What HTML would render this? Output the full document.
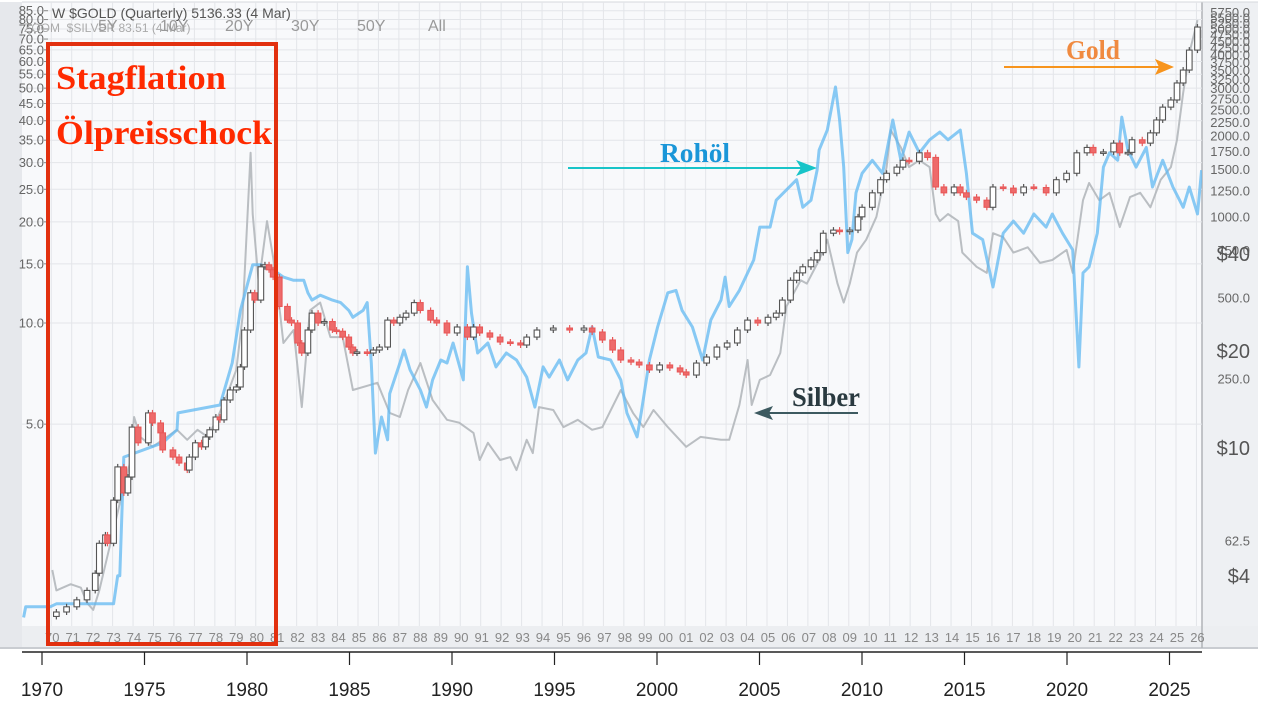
<!DOCTYPE html>
<html><head><meta charset="utf-8">
<style>
html,body{margin:0;padding:0;background:#fff;}
svg{display:block;}
text{font-family:"Liberation Sans",sans-serif;}
</style></head>
<body>
<svg id="chart" width="1276" height="714" viewBox="0 0 1276 714" xmlns="http://www.w3.org/2000/svg">
  <defs>
    <linearGradient id="leftbg" x1="0" x2="1" y1="0" y2="0">
      <stop offset="0" stop-color="#e6e8ec"/><stop offset="1" stop-color="#f7f8fa"/>
    </linearGradient>
    <clipPath id="plotclip"><rect x="22" y="2" width="1180" height="624"/></clipPath>
  </defs>
  <rect x="0" y="0" width="1276" height="714" fill="#fff"/>
  <rect x="0" y="2" width="1202" height="646" fill="url(#leftbg)"/>
  <rect x="22" y="2" width="1180" height="624" fill="#f8f9fb"/>
  <rect x="1202" y="2" width="56" height="646" fill="#eef0f3"/>
  <rect x="22" y="626" width="1236" height="22" fill="#eceef1"/>
  <line x1="0" y1="648" x2="1258" y2="648" stroke="#c9ccd1" stroke-width="2"/>
  <line x1="1202" y1="2" x2="1202" y2="648" stroke="#b0b3b8" stroke-width="1.5"/>
  <line x1="22" y1="2" x2="1258" y2="2" stroke="#d6d8dc" stroke-width="1"/>
  <g id="grid"></g>
  <g id="leftaxis"></g>
  <g id="rightaxis"></g>
  <g clip-path="url(#plotclip)">
    <g id="silver"></g>
    <g id="oil"></g>
    <g id="gold"></g>
  </g>
  <g id="strip"></g>
  <g id="bottomaxis"></g>

  <text x="52" y="18" font-size="14" fill="#555">W $GOLD (Quarterly) 5136.33 (4 Mar)</text>
  <text x="24" y="32" font-size="12" fill="#aaa">ZOOM &#160;$SILVER 83.51 (4 Mar)</text>
  <text x="98" y="31" font-size="16" fill="#999">5Y</text>
  <text x="160" y="31" font-size="16" fill="#999">10Y</text>
  <text x="225" y="31" font-size="16" fill="#999">20Y</text>
  <text x="291" y="31" font-size="16" fill="#999">30Y</text>
  <text x="357" y="31" font-size="16" fill="#999">50Y</text>
  <text x="428" y="31" font-size="16" fill="#999">All</text>

  <rect x="48" y="44" width="228" height="600" fill="none" stroke="#e2300f" stroke-width="4"/>
  <text x="56" y="89" font-family="Liberation Serif, serif" font-weight="bold" font-size="34" fill="#ff2a00" textLength="170" lengthAdjust="spacingAndGlyphs" style="font-family:'Liberation Serif',serif">Stagflation</text>
  <text x="56" y="144" font-weight="bold" font-size="34" fill="#ff2a00" textLength="216" lengthAdjust="spacingAndGlyphs" style="font-family:'Liberation Serif',serif">Ölpreisschock</text>

  <text x="660" y="162" font-weight="bold" font-size="27" fill="#1a96d8" textLength="70" lengthAdjust="spacingAndGlyphs" style="font-family:'Liberation Serif',serif">Rohöl</text>
  <line x1="568" y1="168" x2="805" y2="168" stroke="#18c4c8" stroke-width="2"/>
  <polygon points="817,168 796,160 801,168 796,176" fill="#18c4c8"/>

  <text x="1066" y="59" font-weight="bold" font-size="27" fill="#f08a40" textLength="54" lengthAdjust="spacingAndGlyphs" style="font-family:'Liberation Serif',serif">Gold</text>
  <line x1="1004" y1="67" x2="1162" y2="67" stroke="#f7941d" stroke-width="2"/>
  <polygon points="1174,67 1155,59 1159,67 1155,75" fill="#f7941d"/>

  <text x="792" y="406" font-weight="bold" font-size="27" fill="#2a3a40" textLength="68" lengthAdjust="spacingAndGlyphs" style="font-family:'Liberation Serif',serif">Silber</text>
  <line x1="858" y1="413" x2="764" y2="413" stroke="#3d5a60" stroke-width="2"/>
  <polygon points="754,413 773,406 769,413 773,420" fill="#3d5a60"/>
</svg>
<script>
// ---- data (ratio-axis values) ----
const goldYears = [1970.8,1971.3,1971.8,1972.3,1972.7,1972.9,1973.2,1973.3,1973.6,1973.8,1974.1,1974.3,1974.5,1974.8,1975.3,1975.5,1975.9,1976.0,1976.5,1976.8,1977.2,1977.3,1977.6,1977.9,1978.1,1978.3,1978.6,1978.8,1979.0,1979.3,1979.6,1979.8,1980.0,1980.3,1980.5,1980.8,1981.0,1981.2,1981.4,1981.7,1982.1,1982.3,1982.6,1982.8,1983.1,1983.3,1983.6,1983.9,1984.3,1984.5,1984.8,1985.1,1985.3,1985.5,1986.0,1986.3,1986.6,1987.0,1987.3,1987.6,1987.9,1988.3,1988.6,1989.1,1989.4,1989.9,1990.4,1990.9,1991.2,1991.5,1992.0,1992.5,1993.0,1993.5,1993.8,1994.3,1995.1,1995.9,1996.6,1997.0,1997.5,1998.0,1998.4,1998.9,1999.3,1999.8,2000.3,2000.8,2001.3,2001.6,2002.1,2002.6,2003.1,2003.6,2004.1,2004.6,2005.1,2005.6,2006.0,2006.3,2006.7,2007.0,2007.3,2007.7,2008.0,2008.3,2008.8,2009.1,2009.6,2010.0,2010.2,2010.7,2011.1,2011.4,2011.9,2012.2,2012.5,2013.0,2013.4,2013.8,2014.2,2014.7,2015.0,2015.3,2015.8,2016.3,2016.6,2017.1,2017.6,2018.1,2018.6,2019.2,2019.7,2020.2,2020.7,2021.2,2021.5,2022.0,2022.5,2022.8,2023.2,2023.4,2023.9,2024.3,2024.6,2024.9,2025.3,2025.6,2025.9,2026.2,2026.6];
const goldValues = [1.38,1.43,1.50,1.60,1.80,2.21,2.34,2.21,2.97,3.73,3.12,3.48,4.90,4.40,5.40,5.04,4.71,4.19,3.99,3.83,3.65,3.99,4.40,4.28,4.58,4.81,5.25,5.15,5.90,6.32,6.45,7.40,9.53,12.3,11.7,14.7,14.9,14.4,13.7,11.2,10.2,10.0,8.72,8.14,9.53,10.7,10.0,10.1,9.53,9.45,9.08,8.48,8.14,8.20,8.14,8.31,8.48,10.2,10.0,10.4,10.7,11.5,10.9,10.2,10.0,9.34,9.73,9.08,9.73,9.34,9.08,8.78,8.72,8.60,9.08,9.53,9.66,9.53,9.66,9.40,8.90,8.31,7.76,7.65,7.50,7.25,7.50,7.35,7.15,7.00,7.60,7.92,8.48,8.72,9.53,10.2,10.0,10.4,10.7,11.7,13.4,14.1,14.7,15.4,16.2,18.5,18.9,18.7,18.9,20.7,22.1,24.4,26.7,27.9,29.1,30.5,30.3,32.1,31.1,25.4,24.4,25.4,24.4,23.7,23.2,22.1,25.4,25.2,24.4,25.4,25.3,24.4,26.7,27.9,32.1,33.3,32.1,32.3,34.3,32.1,32.2,35.1,34.3,36.8,40.2,43.9,46.1,51.8,56.6,64.9,76.0];
const oilYears = [1969.2,1969.3,1970.5,1970.8,1973.6,1973.8,1973.9,1974.1,1976.0,1976.7,1976.75,1978.8,1979.4,1979.8,1980.4,1980.8,1981.4,1981.9,1982.4,1982.9,1983.1,1983.3,1983.7,1984.3,1984.7,1985.1,1985.3,1985.8,1986.0,1986.2,1986.4,1986.7,1987.0,1987.1,1987.6,1987.8,1988.1,1988.6,1988.9,1989.2,1989.6,1989.9,1990.2,1990.7,1990.9,1991.1,1991.4,1991.9,1992.3,1992.8,1993.3,1993.8,1994.2,1994.6,1994.9,1995.4,1995.8,1996.3,1996.7,1997.0,1997.3,1997.9,1998.4,1998.7,1999.2,1999.4,1999.8,2000.2,2000.7,2001.1,2001.4,2001.9,2002.4,2002.8,2003.3,2003.5,2003.7,2004.2,2004.9,2005.2,2005.7,2006.0,2006.5,2007.0,2007.3,2007.7,2008.0,2008.1,2008.5,2008.9,2009.1,2009.3,2009.5,2009.7,2009.9,2010.2,2010.7,2011.2,2011.7,2012.1,2012.5,2013.0,2013.5,2014.0,2014.4,2015.0,2015.3,2015.6,2016.1,2016.6,2017.1,2017.6,2018.1,2018.6,2019.2,2019.5,2020.0,2020.5,2020.8,2021.0,2021.3,2021.7,2022.0,2022.3,2022.7,2022.9,2023.2,2023.6,2024.1,2024.4,2024.9,2025.4,2025.9,2026.2,2026.6,2026.8];
const oilValues = [1.33,1.43,1.43,1.46,1.46,1.77,1.77,3.99,4.40,4.81,5.40,5.70,7.60,10.9,14.9,14.9,14.4,13.7,13.4,13.4,12.3,11.7,12.1,11.7,11.5,10.9,10.4,10.9,11.5,7.60,4.10,5.25,4.49,6.16,7.60,8.31,7.25,6.32,5.62,6.77,7.76,7.60,8.72,6.77,14.7,10.7,8.14,8.72,7.40,8.14,7.76,6.90,5.62,7.40,6.90,7.76,6.77,7.76,8.14,9.73,7.92,7.76,6.77,5.40,4.58,5.40,7.76,9.73,12.3,12.5,10.9,9.73,7.76,10.2,11.7,13.7,11.2,12.5,15.4,19.3,19.3,23.2,24.9,26.7,22.1,23.2,28.5,32.7,37.5,50.4,40.2,29.1,16.2,17.7,24.4,27.9,30.5,27.9,40.2,30.5,37.0,32.1,35.1,37.0,35.1,37.5,27.9,18.5,17.7,12.8,18.5,20.1,18.5,21.1,19.3,21.1,18.5,16.5,7.40,14.1,14.7,18.5,29.1,32.1,30.5,41.0,32.7,29.1,33.3,25.4,30.5,25.4,22.1,25.4,21.1,28.5];
const silverYears = [1970.6,1970.8,1971.5,1972.0,1972.3,1972.6,1972.9,1973.4,1973.9,1974.4,1974.6,1974.9,1975.5,1976.0,1976.7,1977.2,1977.7,1978.2,1978.7,1979.1,1979.6,1979.9,1980.3,1980.4,1980.7,1981.1,1981.4,1981.7,1981.9,1982.4,1982.8,1983.2,1983.7,1984.2,1984.8,1985.3,1986.5,1987.1,1987.6,1988.0,1988.6,1989.2,1989.9,1990.5,1991.2,1991.5,1991.9,1992.5,1993.0,1993.3,1993.8,1994.1,1994.4,1995.1,1995.6,1996.3,1997.0,1997.5,1998.4,1999.0,1999.5,2000.0,2000.7,2001.6,2002.3,2003.3,2003.7,2004.2,2004.6,2004.8,2005.2,2005.7,2006.2,2006.5,2007.2,2007.5,2008.1,2008.5,2009.0,2009.3,2009.6,2009.95,2010.4,2010.9,2011.4,2011.6,2012.1,2012.5,2013.0,2013.5,2013.8,2014.0,2014.4,2014.9,2015.1,2015.8,2016.3,2016.6,2017.1,2017.6,2018.3,2018.9,2019.5,2020.2,2020.5,2021.0,2021.3,2021.8,2022.3,2022.8,2023.3,2023.8,2024.3,2024.8,2025.3,2025.6,2025.9,2026.2,2026.6];
const silverValues = [1.84,1.60,1.67,1.63,1.47,1.40,1.60,2.15,2.91,3.83,5.25,4.58,4.28,4.49,4.81,4.49,4.81,4.58,5.25,6.01,7.25,10.4,32.1,21.1,13.1,20.1,15.7,11.2,8.72,9.53,5.62,10.9,11.5,9.08,9.08,6.32,6.64,5.40,5.25,6.32,7.60,5.90,5.15,5.05,4.71,3.91,4.40,3.91,3.99,3.65,4.49,4.10,5.62,5.51,4.90,5.15,4.81,4.90,6.32,5.40,4.90,5.51,4.90,4.28,4.58,4.49,4.49,5.70,7.76,5.70,6.77,7.00,8.14,11.2,13.4,13.1,15.4,17.7,13.1,11.5,13.1,16.2,17.7,20.7,29.1,37.5,33.3,29.1,30.5,29.1,21.1,20.1,21.1,20.1,16.2,14.7,14.1,18.5,18.0,16.2,16.8,15.1,15.4,16.5,14.1,23.2,26.1,23.2,24.4,19.3,23.7,24.4,22.1,26.7,29.1,35.1,48.5,63.5,79.7];
const leftTicks = [85,80,75,70,65,60,55,50,45,40,35,30,25,20,15,10,5];
const goldAxisTicks = [5750,5500,5250,5000,4750,4500,4250,4000,3750,3500,3250,3000,2750,2500,2250,2000,1750,1500,1250,1000,750,500,250,62.5];
const oilAxisTicks = [40,20,10,4];
const stripYears = [70,71,72,73,74,75,76,77,78,79,80,81,82,83,84,85,86,87,88,89,90,91,92,93,94,95,96,97,98,99,"00","01","02","03","04","05","06","07","08","09",10,11,12,13,14,15,16,17,18,19,20,21,22,23,24,25,26];
const bottomYears = [1970,1975,1980,1985,1990,1995,2000,2005,2010,2015,2020,2025];

// ---- scales ----
const NS = "http://www.w3.org/2000/svg";
const xS = yr => 40 + (yr - 1970) * 20.45;
const yL = v => 323 - 336 * Math.log10(v / 10);
const yGold = v => 217 - 269 * Math.log10(v / 1000);
const yOil = v => 448 - 322 * Math.log10(v / 10);
const xB = yr => 42 + (yr - 1970) * 20.5;
function mk(tag, attrs, parent) {
  const e = document.createElementNS(NS, tag);
  for (const k in attrs) e.setAttribute(k, attrs[k]);
  parent.appendChild(e);
  return e;
}
const grid = document.getElementById('grid');
for (let i = 0; i < 57; i++) {
  const gx = xS(1970.55 + i);
  const l = mk('line', {x1: gx, y1: 2, x2: gx, y2: 626, stroke: '#e3e5e9', 'stroke-width': 1}, grid);
  
  
}
const la = document.getElementById('leftaxis');
leftTicks.forEach(v => {
  const yy = yL(v);
  const gl = mk('line', {x1: 22, y1: yy, x2: 1202, y2: yy, stroke: '#e3e5e9', 'stroke-width': 1}, grid);
  
  
  const t = mk('text', {x: 44, y: yy + 4.5, 'font-size': 13, fill: '#666', 'text-anchor': 'end'}, la);
  t.textContent = v.toFixed(1);
  
  
  const tk = mk('line', {x1: 44, y1: yy, x2: 48, y2: yy, stroke: '#888', 'stroke-width': 1}, la);
  
  
});
const ra = document.getElementById('rightaxis');
goldAxisTicks.forEach(v => {
  const t = mk('text', {x: 1250, y: yGold(v) + 4.5, 'font-size': 13, fill: '#666', 'text-anchor': 'end'}, ra);
  t.textContent = v.toFixed(1);
  
  
});
oilAxisTicks.forEach(v => {
  const t = mk('text', {x: 1250, y: yOil(v) + 7, 'font-size': 20, fill: '#555', 'text-anchor': 'end'}, ra);
  t.textContent = '$' + v;
  
  
});
function line(g, xs, vs, color, w, op, name) {
  const d = xs.map((x, i) => (i ? 'L' : 'M') + xS(x).toFixed(1) + ',' + yL(vs[i]).toFixed(1)).join('');
  const p = mk('path', {d: d, fill: 'none', stroke: color, 'stroke-width': w, 'stroke-opacity': op, 'stroke-linejoin': 'round'}, g);
  
  
}
line(document.getElementById('silver'), silverYears, silverValues, '#b3b7bb', 2, 0.9, 'silver-line');
line(document.getElementById('oil'), oilYears, oilValues, '#62b8f2', 3, 0.75, 'oil-line');
const gg = document.getElementById('gold');
goldYears.forEach((yr, i) => {
  const c = goldValues[i];
  const o = i ? goldValues[i - 1] : c * 0.97;
  const cx = xS(yr);
  const yo = yL(o), yc = yL(c);
  const top = Math.min(yo, yc), bot = Math.max(yo, yc);
  const up = c >= o;
  const w = mk('line', {x1: cx, y1: top - 3, x2: cx, y2: bot + 3, stroke: up ? '#555' : '#e85858', 'stroke-width': 1.2}, gg);
  
  
  const r = mk('rect', {x: cx - 2.8, y: top, width: 5.6, height: Math.max(bot - top, 1.5), fill: up ? '#fff' : '#ee6a6a', stroke: up ? '#555' : '#e85858', 'stroke-width': 1.1}, gg);
  
  
});
const st = document.getElementById('strip');
stripYears.forEach((lab, i) => {
  const t = mk('text', {x: xS(1970 + i) + 5, y: 642, 'font-size': 13, fill: '#888'}, st);
  t.textContent = lab;
  
  
});
const ba = document.getElementById('bottomaxis');
const al = mk('line', {x1: 22, y1: 652, x2: 1202, y2: 652, stroke: '#222', 'stroke-width': 1.5}, ba);


bottomYears.forEach(yr => {
  const bx = xB(yr);
  const tk = mk('line', {x1: bx, y1: 652, x2: bx, y2: 665, stroke: '#222', 'stroke-width': 1.2}, ba);
  
  
  const t = mk('text', {x: bx, y: 696, 'font-size': 19, fill: '#222', 'text-anchor': 'middle'}, ba);
  t.textContent = yr;
  
  
});
</script>
</body></html>
